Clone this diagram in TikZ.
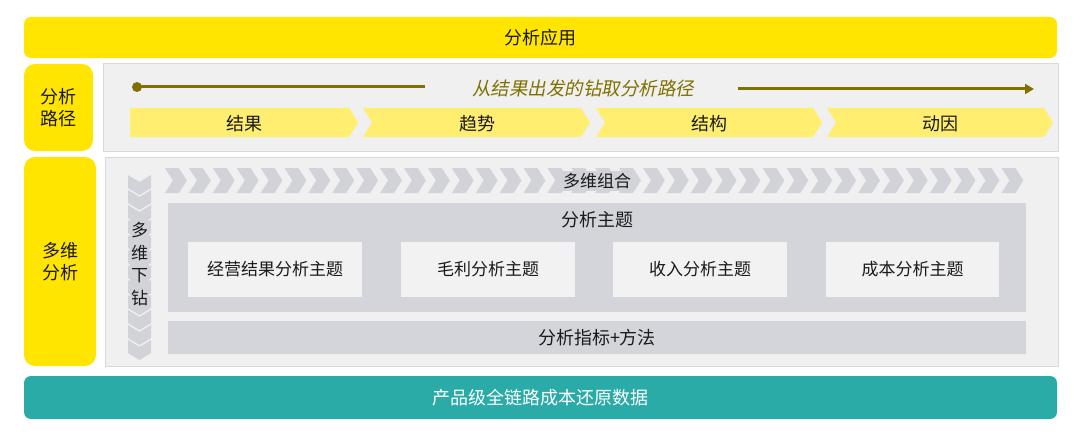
\documentclass[tikz,border=0pt]{standalone}
\usepackage{fontspec}
\setmainfont{Noto Sans CJK SC}
\newfontfamily\cjkit[FakeSlant=0.2]{Noto Sans CJK SC}
\usetikzlibrary{arrows.meta}
\definecolor{ayellow}{HTML}{FFE500}
\definecolor{lyellow}{HTML}{FFEE70}
\definecolor{panel}{HTML}{F0F0F0}
\definecolor{panelline}{HTML}{D9D9D9}
\definecolor{stripc}{HTML}{D2D3D9}
\definecolor{themec}{HTML}{D4D5DB}
\definecolor{subbox}{HTML}{F2F2F2}
\definecolor{olive}{HTML}{7F7000}
\definecolor{tealc}{HTML}{2AABA8}
\definecolor{txt}{HTML}{1A1A1A}
\tikzset{
  box/.style={rectangle, inner sep=0pt, outer sep=0pt, anchor=north west, text=txt},
  yband/.style={box, fill=ayellow, rounded corners=7pt, font=\fontsize{18}{20}\selectfont},
  ylabel/.style={box, fill=ayellow, rounded corners=11pt, align=center, font=\fontsize{18}{22}\selectfont},
  panelbox/.style={box, fill=panel, draw=panelline, line width=1pt},
  themebox/.style={box, fill=themec},
  subb/.style={box, fill=subbox, font=\fontsize{17}{20}\selectfont},
  lbl/.style={font=\fontsize{18}{20}\selectfont, text=txt},
  chev/.style={fill=lyellow},
  gchev/.style={fill=stripc},
}
\begin{document}
\begin{tikzpicture}[x=1pt,y=-1pt]
\useasboundingbox[fill=white] (0,0) rectangle (1080,436);
% top bar
\node[yband, minimum width=1033pt, minimum height=41pt] (app) at (24,17) {分析应用};
% analysis path row
\node[ylabel, minimum width=69pt, minimum height=87pt] (pathlbl) at (24,64) {分析\\路径};
\node[panelbox, minimum width=955pt, minimum height=87pt] (pathpanel) at (103,64) {};
\coordinate (ls) at (137,87);
\coordinate (le) at (425,87);
\coordinate (as) at (738,89);
\coordinate (ae) at (1034,89);
\fill[olive] (ls) circle (5pt);
\draw[olive, line width=3pt] (ls) -- (le);
\draw[olive, line width=3pt, -{Triangle[length=9pt,width=10pt]}] (as) -- (ae);
\node[text=olive, font=\fontsize{18.5}{20}\selectfont\cjkit] (pathtxt) at (583,88) {从结果出发的钻取分析路径};
% path chevrons
\fill[chev] (130,108) -- (349,108) -- (358,122.5) -- (349,137) -- (130,137) -- cycle;
\fill[chev] (363,108) -- (581,108) -- (590,122.5) -- (581,137) -- (363,137) -- (372,122.5) -- cycle;
\fill[chev] (596,108) -- (813,108) -- (822,122.5) -- (813,137) -- (596,137) -- (605,122.5) -- cycle;
\fill[chev] (827,108) -- (1044,108) -- (1053,122.5) -- (1044,137) -- (827,137) -- (836,122.5) -- cycle;
\node[lbl] (s1) at (244,124) {结果};
\node[lbl] (s2) at (477,124) {趋势};
\node[lbl] (s3) at (709,124) {结构};
\node[lbl] (s4) at (940,124) {动因};
% multi-dim row
\node[ylabel, minimum width=72pt, minimum height=209pt] (mlbl) at (24,157) {多维\\分析};
\node[panelbox, minimum width=953pt, minimum height=209pt] (mpanel) at (105,157) {};
% horizontal chevron strip
\foreach \i in {0,...,35}{
  \pgfmathsetmacro{\xa}{165+\i*23.9}
  \fill[gchev] (\xa,168) -- ({\xa+23.9-2-8},168) -- ({\xa+23.9-2},180.5) -- ({\xa+23.9-2-8},193) -- (\xa,193) -- ({\xa+8},180.5) -- cycle;
}
\node[fill=stripc, inner sep=2pt, font=\fontsize{17}{20}\selectfont, text=txt] (combo) at (597,181) {多维组合};
% vertical chevron strip
\foreach \j in {0,...,11}{
  \pgfmathsetmacro{\ya}{175+\j*15}
  \fill[gchev] (128,\ya) -- (139.5,{\ya+7}) -- (151,\ya) -- (151,{\ya+15-2}) -- (139.5,{\ya+15-2+7}) -- (128,{\ya+15-2}) -- cycle;
}
\node[fill=stripc, inner xsep=1pt, inner ysep=2pt, align=center, font=\fontsize{17}{22.5}\selectfont, text=txt] (drill) at (139.5,264) {多\\维\\下\\钻};
% theme box
\node[themebox, minimum width=858pt, minimum height=109pt] (theme) at (168,203) {};
\node[lbl] (themetitle) at (597,220) {分析主题};
\node[subb, minimum width=174pt, minimum height=55pt] (t1) at (188,242) {经营结果分析主题};
\node[subb, minimum width=174pt, minimum height=55pt] (t2) at (401,242) {毛利分析主题};
\node[subb, minimum width=174pt, minimum height=55pt] (t3) at (613,242) {收入分析主题};
\node[subb, minimum width=173pt, minimum height=55pt] (t4) at (826,242) {成本分析主题};
\node[themebox, minimum width=858pt, minimum height=33pt, font=\fontsize{18}{20}\selectfont] (metric) at (168,321) {分析指标+方法};
% bottom bar
\node[box, fill=tealc, rounded corners=7pt, text=white, minimum width=1033pt, minimum height=43pt, font=\fontsize{18}{20}\selectfont] (data) at (24,376) {产品级全链路成本还原数据};
\end{tikzpicture}
\end{document}
